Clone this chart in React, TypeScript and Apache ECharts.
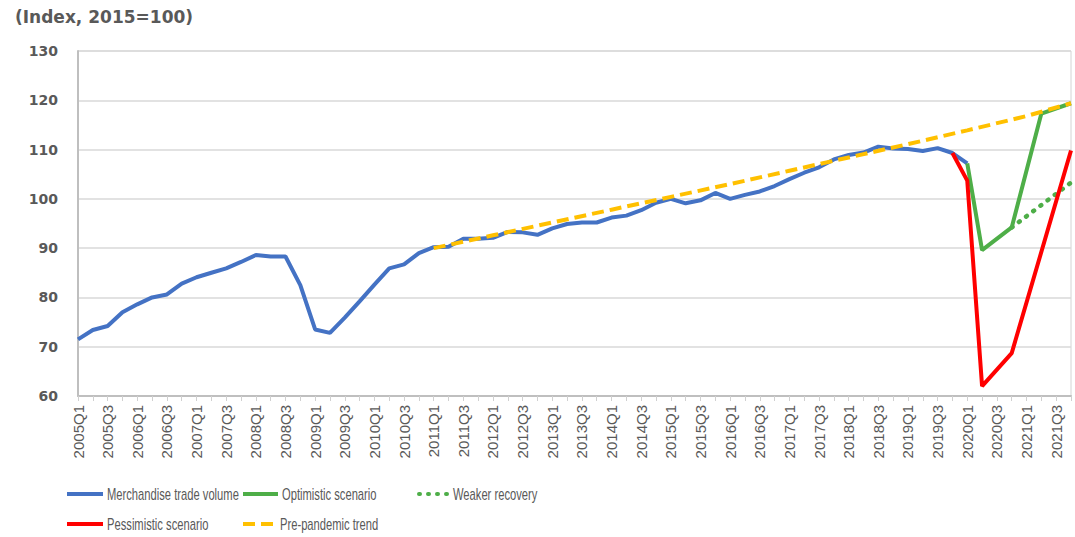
import React, { useEffect, useRef } from 'react';
import * as echarts from 'echarts';

const years = [2005, 2006, 2007, 2008, 2009, 2010, 2011, 2012, 2013, 2014, 2015, 2016, 2017, 2018, 2019, 2020, 2021];
const quarterNames = ['Q1', 'Q2', 'Q3', 'Q4'];
const categories = years.flatMap((y) => quarterNames.map((q) => `${y}${q}`));

// Merchandise trade volume, 2005Q1 .. 2020Q1
const merchandiseVolume = [
  71.5, 73.4, 74.2, 77.0, 78.6, 80.0, 80.6, 82.8,
  84.1, 85.0, 85.9, 87.2, 88.6, 88.3, 88.3, 82.5,
  73.5, 72.8, 75.9, 79.2, 82.6, 85.9, 86.7, 89.0,
  90.2, 90.3, 91.9, 91.9, 92.1, 93.3, 93.2, 92.7,
  94.0, 94.9, 95.2, 95.2, 96.2, 96.6, 97.7, 99.2,
  100.0, 99.1, 99.7, 101.2, 100.0, 100.8, 101.5, 102.6,
  104.0, 105.3, 106.4, 108.0, 108.9, 109.4, 110.6, 110.2,
  110.1, 109.7, 110.3, 109.3, 107.2,
];

const optimisticQuarters = ['2020Q1', '2020Q2', '2020Q4', '2021Q2', '2021Q4'];
const optimisticValues = [107.2, 89.6, 94.2, 117.3, 119.4];

const weakerQuarters = ['2020Q4', '2021Q4'];
const weakerValues = [94.2, 103.3];

const pessimisticQuarters = ['2019Q4', '2020Q1', '2020Q2', '2020Q4', '2021Q4'];
const pessimisticValues = [109.3, 103.7, 62.0, 68.7, 109.8];

const trendQuarters = ['2011Q1', '2012Q1', '2013Q1', '2014Q1', '2015Q1', '2016Q1', '2017Q1', '2018Q1', '2019Q1', '2020Q1', '2021Q1', '2021Q4'];
const trendValues = [90.0, 92.6, 95.2, 97.8, 100.4, 103.0, 105.7, 108.4, 111.1, 113.9, 116.8, 119.4];

const seriesNames = [
  'Merchandise trade volume',
  'Optimistic scenario',
  'Weaker recovery',
  'Pessimistic scenario',
  'Pre-pandemic trend',
];

const yTicks = { min: 60, max: 130, interval: 10 };

const pair = (qs: string[], vs: number[]) => qs.map((q, i) => [q, vs[i]]);

const BLUE = '#4472C4';
const GREEN = '#4EAE48';
const RED = '#FF0000';
const GOLD = '#FFC000';
const TEXT = '#595959';
const SANS = '"Liberation Sans", Arial, sans-serif';

const DOTTED = [1, 8];
const DASHED = [12, 6];

export default function App() {
  const ref = useRef<HTMLDivElement>(null);
  useEffect(() => {
    if (!ref.current) return;
    const chart = echarts.init(ref.current, null, { renderer: 'svg' });

    const legendItem = (
      name: string,
      x: number,
      y: number,
      color: string,
      dash: number[] | null,
      cap: string,
      width: number
    ) => [
      {
        type: 'line',
        shape: { x1: x, y1: y, x2: x + width, y2: y },
        style: {
          stroke: color,
          lineWidth: 4,
          lineDash: dash || undefined,
          lineCap: cap,
        },
        silent: true,
      },
      {
        type: 'text',
        x: x + width + 4,
        y,
        scaleX: 0.7,
        style: {
          text: name,
          fill: TEXT,
          font: `16px ${SANS}`,
          align: 'left',
          verticalAlign: 'middle',
        },
        silent: true,
      },
    ];

    chart.setOption({
      animation: false,
      backgroundColor: '#ffffff',
      title: {
        text: '(Index, 2015=100)',
        left: 10,
        top: 3,
        textStyle: { fontFamily: '"DejaVu Sans", sans-serif', fontWeight: 'bold', fontSize: 17, color: TEXT },
      },
      graphic: [
        ...legendItem(seriesNames[0], 67, 494, BLUE, null, 'butt', 36),
        ...legendItem(seriesNames[1], 243, 494, GREEN, null, 'butt', 35),
        ...legendItem(seriesNames[2], 419, 494, GREEN, DOTTED, 'round', 30),
        ...legendItem(seriesNames[3], 67, 524, RED, null, 'butt', 36),
        ...legendItem(seriesNames[4], 243, 524, GOLD, DASHED, 'butt', 33),
      ],
      grid: {
        left: 78,
        right: 4,
        top: 51,
        bottom: 141,
        show: true,
        borderColor: '#d4d4d4',
        borderWidth: 1,
      },
      xAxis: {
        type: 'category',
        data: categories,
        boundaryGap: false,
        axisLine: { lineStyle: { color: '#bfbfbf', width: 2 } },
        axisTick: { show: true, interval: 0, length: 5, lineStyle: { color: '#d0d0d0' } },
        axisLabel: {
          interval: 1,
          rotate: 90,
          margin: 9,
          fontSize: 15,
          color: TEXT,
          fontFamily: SANS,
        },
        splitLine: { show: false },
      },
      yAxis: {
        type: 'value',
        min: yTicks.min,
        max: yTicks.max,
        interval: yTicks.interval,
        axisLine: { show: true, lineStyle: { color: '#bfbfbf', width: 2 } },
        axisTick: { show: false },
        axisLabel: {
          margin: 20,
          fontSize: 14,
          fontWeight: 'bold',
          color: TEXT,
          fontFamily: '"DejaVu Sans", sans-serif',
        },
        splitLine: { lineStyle: { color: '#d9d9d9', width: 1.5 } },
      },
      series: [
        {
          name: seriesNames[0],
          type: 'line',
          data: merchandiseVolume,
          symbol: 'none',
          lineStyle: { color: BLUE, width: 4 },
          itemStyle: { color: BLUE },
          z: 2,
        },
        {
          name: seriesNames[1],
          type: 'line',
          data: pair(optimisticQuarters, optimisticValues),
          symbol: 'none',
          lineStyle: { color: GREEN, width: 4 },
          itemStyle: { color: GREEN },
          z: 3,
        },
        {
          name: seriesNames[2],
          type: 'line',
          data: pair(weakerQuarters, weakerValues),
          symbol: 'none',
          lineStyle: { color: GREEN, width: 4.5, type: DOTTED, cap: 'round' },
          itemStyle: { color: GREEN },
          z: 3,
        },
        {
          name: seriesNames[3],
          type: 'line',
          data: pair(pessimisticQuarters, pessimisticValues),
          symbol: 'none',
          lineStyle: { color: RED, width: 4 },
          itemStyle: { color: RED },
          z: 4,
        },
        {
          name: seriesNames[4],
          type: 'line',
          data: pair(trendQuarters, trendValues),
          symbol: 'none',
          lineStyle: { color: GOLD, width: 4, type: DASHED },
          itemStyle: { color: GOLD },
          z: 5,
        },
      ],
    });
    return () => chart.dispose();
  }, []);
  return (
    <div
      ref={ref}
      style={{ position: 'absolute', left: 0, top: 0, width: 1075, height: 537 }}
    />
  );
}
